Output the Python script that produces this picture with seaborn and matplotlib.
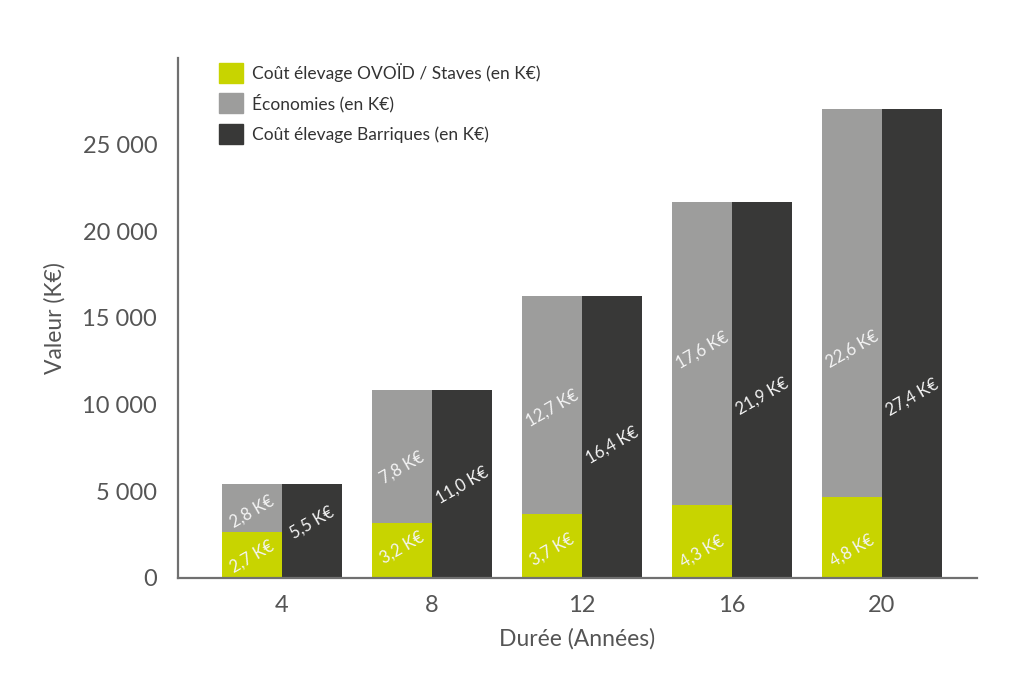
import pandas as pd
import seaborn as sns
import matplotlib.pyplot as plt
from matplotlib.patches import Patch
from matplotlib.ticker import FuncFormatter

# data (valeurs en euros)
durees = ["4", "8", "12", "16", "20"]
cout_ovoid = [2670, 3150, 3690, 4210, 4650]
economies = [2730, 7690, 12560, 17480, 22360]
cout_barriques = [5400, 10840, 16250, 21690, 27010]

lbl_ovoid = ["2,7 K€", "3,2 K€", "3,7 K€", "4,3 K€", "4,8 K€"]
lbl_eco = ["2,8 K€", "7,8 K€", "12,7 K€", "17,6 K€", "22,6 K€"]
lbl_barr = ["5,5 K€", "11,0 K€", "16,4 K€", "21,9 K€", "27,4 K€"]
# where the labels sit on the bars
pos_ovoid = [1230, 1730, 1610, 1500, 1600]
pos_eco = [3800, 6370, 9800, 13100, 13200]
pos_barr = [3200, 5320, 7670, 10500, 10400]

vert = "#c8d400"
gris = "#9d9d9c"
noir = "#383837"
axe = "#707070"
texte = "#555555"

sns.set_style("white")
plt.rcParams["font.family"] = ["Lato", "DejaVu Sans"]

fig = plt.figure(figsize=(10.24, 6.88), dpi=100)
ax = fig.add_axes([0.1738, 0.1599, 0.780, 0.7565])

# hauteur totale cote gauche = ovoid + economies
total_gauche = [a + b for a, b in zip(cout_ovoid, economies)]
df_haut = pd.DataFrame({
    "duree": durees * 2,
    "valeur": total_gauche + cout_barriques,
    "serie": ["gauche"] * 5 + ["droite"] * 5,
})
df_bas = pd.DataFrame({
    "duree": durees * 2,
    "valeur": cout_ovoid + cout_barriques,
    "serie": ["gauche"] * 5 + ["droite"] * 5,
})

sns.barplot(data=df_haut, x="duree", y="valeur", hue="serie",
            hue_order=["gauche", "droite"], palette=[gris, noir], saturation=1,
            width=0.8, errorbar=None, legend=False, ax=ax, linewidth=0)
sns.barplot(data=df_bas, x="duree", y="valeur", hue="serie",
            hue_order=["gauche", "droite"], palette=[vert, noir], saturation=1,
            width=0.8, errorbar=None, legend=False, ax=ax, linewidth=0)

# etiquettes dans les barres
for i in range(len(durees)):
    ax.text(i - 0.2, pos_ovoid[i], lbl_ovoid[i], rotation=30, ha="center", va="center",
            color="#f4f4f4", fontsize=12)
    ax.text(i - 0.2, pos_eco[i], lbl_eco[i], rotation=30, ha="center", va="center",
            color="#f4f4f4", fontsize=12)
    ax.text(i + 0.2, pos_barr[i], lbl_barr[i], rotation=30, ha="center", va="center",
            color="#f4f4f4", fontsize=12)

ax.set_xlim(-0.693, 4.633)
ax.set_ylim(0, 30000)
ax.set_yticks([0, 5000, 10000, 15000, 20000, 25000])
ax.yaxis.set_major_formatter(FuncFormatter(lambda v, p: f"{int(v):,}".replace(",", " ")))

sns.despine(ax=ax)
for s in ["left", "bottom"]:
    ax.spines[s].set_color(axe)
    ax.spines[s].set_linewidth(1.6)

ax.tick_params(axis="y", length=8, width=1.6, color=axe, pad=7, labelsize=17, labelcolor=texte)
ax.tick_params(axis="x", length=0, pad=12, labelsize=17, labelcolor=texte)
ax.set_xlabel("Durée (Années)", fontsize=16.5, color=texte, labelpad=9)
ax.set_ylabel("Valeur (K€)", fontsize=16.5, color=texte, labelpad=12)

handles = [Patch(color=vert), Patch(color=gris), Patch(color=noir)]
labels = ["Coût élevage OVOÏD / Staves (en K€)", "Économies (en K€)",
          "Coût élevage Barriques (en K€)"]
ax.legend(handles, labels, loc="upper left", bbox_to_anchor=(0.032, 1.02),
          frameon=False, fontsize=12.5, handlelength=1.4, handleheight=1.4,
          handletextpad=0.5, labelspacing=0.6, labelcolor="#333333")

fig.savefig("out.png", dpi=100)
